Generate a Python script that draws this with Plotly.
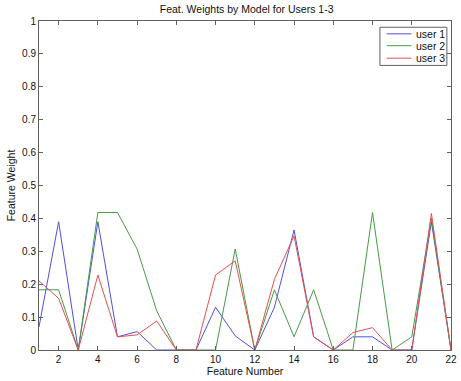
import plotly.graph_objects as go

# Feature indices and per-user model weights
features = list(range(1, 23))
user1 = [0.07, 0.39, 0.0, 0.39, 0.04, 0.056, 0.0, 0.0, 0.0, 0.13, 0.043, 0.0,
         0.13, 0.365, 0.04, 0.0, 0.04, 0.04, 0.0, 0.0, 0.39, 0.0]
user2 = [0.183, 0.183, 0.0, 0.418, 0.418, 0.307, 0.119, 0.0, 0.0, 0.0, 0.307, 0.0,
         0.183, 0.04, 0.183, 0.0, 0.0, 0.418, 0.0, 0.04, 0.40, 0.0]
user3 = [0.21, 0.157, 0.0, 0.228, 0.04, 0.046, 0.088, 0.0, 0.0, 0.228, 0.271, 0.0,
         0.215, 0.347, 0.04, 0.0, 0.053, 0.068, 0.0, 0.0, 0.415, 0.0]

series_names = ["user 1", "user 2", "user 3"]
series_values = [user1, user2, user3]
series_colors = ["rgb(80,80,225)", "rgb(70,155,70)", "rgb(228,80,80)"]

x_ticks = list(range(2, 23, 2))
y_ticks = [round(0.1 * i, 1) for i in range(11)]
y_tick_text = ["0"] + [f"{v:g}" for v in y_ticks[1:-1]] + ["1"]

fig = go.Figure()
for name, vals, color in zip(series_names, series_values, series_colors):
    fig.add_trace(go.Scatter(x=features, y=vals, mode="lines", name=name,
                             line=dict(color=color, width=1), showlegend=False))

axis_common = dict(showgrid=False, zeroline=False, showline=True, linecolor="#606060",
                   linewidth=1, mirror="ticks", ticks="inside", ticklen=4,
                   tickcolor="#606060", ticklabeloverflow="allow",
                   tickfont=dict(size=10, color="#111"))

# Compact boxed legend in the upper-right corner of the axes
box_x0, box_x1, box_y0, box_y1 = 0.8275, 0.990, 0.865, 0.981
row_y = [0.961, 0.925, 0.887]
shapes = [dict(type="rect", xref="paper", yref="paper", x0=box_x0, x1=box_x1,
               y0=box_y0, y1=box_y1, line=dict(color="#606060", width=1),
               fillcolor="white", layer="above")]
annotations = []
for name, color, yy in zip(series_names, series_colors, row_y):
    shapes.append(dict(type="line", xref="paper", yref="paper", x0=0.844, x1=0.904,
                       y0=yy, y1=yy, line=dict(color=color, width=1), layer="above"))
    annotations.append(dict(xref="paper", yref="paper", x=0.910, y=yy, text=name,
                            showarrow=False, xanchor="left", yanchor="middle",
                            font=dict(size=10.5, color="#111")))

fig.update_layout(
    width=461, height=381,
    margin=dict(l=39, r=4, t=21, b=31),
    paper_bgcolor="white", plot_bgcolor="white",
    font=dict(family="Liberation Sans, Arial, sans-serif", size=10, color="#111"),
    title=dict(text="Feat. Weights by Model for Users 1-3", x=0.535, xanchor="center",
               y=0.985, yanchor="top", font=dict(size=10.5)),
    xaxis=dict(range=[1, 22], tickvals=x_ticks, title=dict(text="Feature Number", standoff=2,
               font=dict(size=10.5)), **axis_common),
    yaxis=dict(range=[0, 1], tickvals=y_ticks, ticktext=y_tick_text,
               title=dict(text="Feature Weight", standoff=4, font=dict(size=10.5)),
               **axis_common),
    shapes=shapes,
    annotations=annotations,
    showlegend=False,
)

fig.write_html("out.html")
